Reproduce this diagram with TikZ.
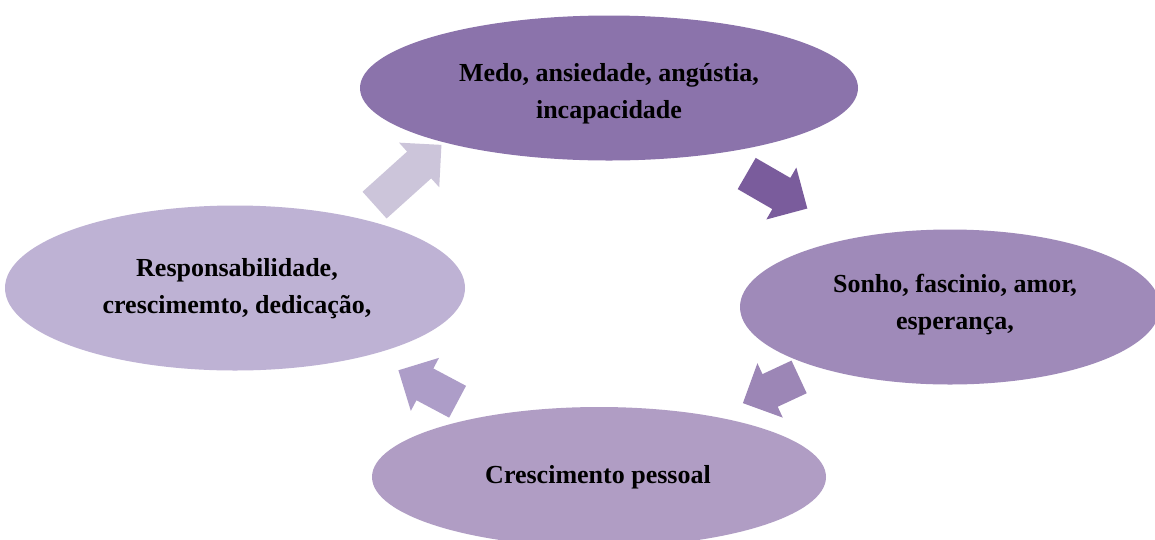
\documentclass[tikz,border=0pt]{standalone}
\usepackage{fontspec}
\setmainfont{Liberation Serif}
\usetikzlibrary{shapes.geometric}
\definecolor{cTop}{HTML}{8B73AB}
\definecolor{cRight}{HTML}{9F8AB9}
\definecolor{cBottom}{HTML}{B09DC4}
\definecolor{cLeft}{HTML}{BEB2D4}
\definecolor{aOne}{HTML}{CCC5DA}
\definecolor{aTwo}{HTML}{7A5C9C}
\definecolor{aThree}{HTML}{9C86B6}
\definecolor{aFour}{HTML}{AD9DC8}
\tikzset{
  bubble/.style={ellipse, inner sep=0pt, draw=none},
  bubbletext/.style={inner sep=0pt, align=center, font=\fontsize{26}{37}\selectfont\bfseries, text=black},
}
% block arrow of length #1 along local x, centred at origin
\newcommand{\myblockarrow}[1]{(-#1/2,-18) -- (#1/2-30,-18) -- (#1/2-30,-30) -- (#1/2,0) -- (#1/2-30,30) -- (#1/2-30,18) -- (-#1/2,18) -- cycle}
\begin{document}
\begin{tikzpicture}[x=1pt,y=-1pt]
\useasboundingbox (0,0) rectangle (1155,539);
\fill[white] (0,0) rectangle (1155,539);
\node[bubble, fill=cTop, minimum width=498pt, minimum height=145pt] (top) at (609,88) {};
\node[bubble, fill=cRight, minimum width=420pt, minimum height=155pt] (right) at (950,307) {};
\node[bubble, fill=cBottom, minimum width=454pt, minimum height=140pt] (bottom) at (599,477) {};
\node[bubble, fill=cLeft, minimum width=460pt, minimum height=165pt] (left) at (235,288) {};
\node[bubbletext] (toptext) at (609,94) {Medo, ansiedade, angústia,\\incapacidade};
\node[bubbletext] (righttext) at (955,305) {Sonho, fascinio, amor,\\esperança,};
\node[bubbletext] (bottomtext) at (598,477) {Crescimento pessoal};
\node[bubbletext] (lefttext) at (237,289) {Responsabilidade,\\crescimemto, dedicação,};
\fill[aOne, shift={(408,175)}, rotate=42] \myblockarrow{90};
\fill[aTwo, shift={(777,191)}, rotate=-30] \myblockarrow{70};
\fill[aThree, shift={(771,390)}, rotate=205] \myblockarrow{62};
\fill[aFour, shift={(428,386)}, rotate=152] \myblockarrow{67};
\end{tikzpicture}
\end{document}
